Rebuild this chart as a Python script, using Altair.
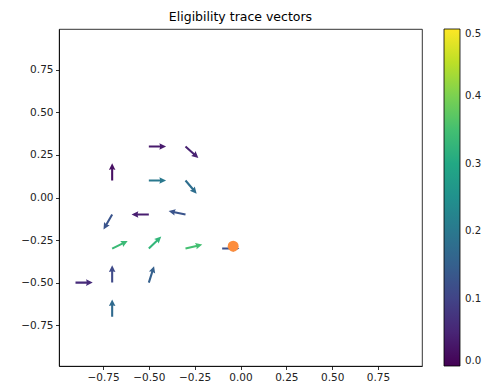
import altair as alt
import pandas as pd

# Arrow tails (grid positions), directions and magnitudes (colour)
xs = [-0.5, -0.3, -0.7, -0.5, -0.3, -0.5, -0.3, -0.7, -0.7, -0.5, -0.3, -0.1, -0.7, -0.5, -0.9, -0.7]
ys = [0.3, 0.3, 0.1, 0.1, 0.1, -0.1, -0.1, -0.1, -0.3, -0.3, -0.3, -0.3, -0.5, -0.5, -0.5, -0.7]
us = [1.0, 12.3, 0.0, 1.0, 11.0, -1.0, -15.7, -8.3, 15.0, 11.7, 16.7, 1.0, 0.0, 5.0, 1.0, 0.0]
vs = [0.0, -11.0, 1.0, 0.0, -13.0, 0.0, 3.3, -14.3, 7.3, 11.3, 4.0, 0.0, 1.0, 15.7, 0.0, 1.0]
mags = [0.035, 0.045, 0.02, 0.2, 0.18, 0.04, 0.13, 0.13, 0.34, 0.33, 0.35, 0.12, 0.11, 0.15, 0.06, 0.17]

# Agent position (orange marker)
agent_x = [-0.04]
agent_y = [-0.286]

tick_vals = [-0.75, -0.5, -0.25, 0.0, 0.25, 0.5, 0.75]
cbar_vals = [0.0, 0.1, 0.2, 0.3, 0.4, 0.5]

df = pd.DataFrame({"x": xs, "y": ys, "u": us, "v": vs, "c": mags})
agent = pd.DataFrame({"x": agent_x, "y": agent_y})

ARROW = "M0,-0.06 L0.65,-0.06 L0.61,-0.19 L1,0 L0.61,0.19 L0.65,0.06 L0,0.06 Z"

xscale = alt.Scale(domain=[-0.99, 0.99], nice=False, zero=False)
yscale = alt.Scale(domain=[-0.99, 0.99], nice=False, zero=False)

xaxis = alt.Axis(values=tick_vals, format=".2f", title=None, grid=False)
yaxis = alt.Axis(values=tick_vals, format=".2f", title=None, grid=False)

arrows = alt.Chart(df).transform_calculate(
    ang="(atan2(-datum.v, datum.u) * 180 / PI + 360) % 360"
).mark_point(shape=ARROW, filled=True, opacity=1, strokeWidth=0, size=1190).encode(
    x=alt.X("x:Q", scale=xscale, axis=xaxis),
    y=alt.Y("y:Q", scale=yscale, axis=yaxis),
    angle=alt.Angle("ang:Q", scale=None),
    color=alt.Color(
        "c:Q",
        scale=alt.Scale(scheme="viridis", domain=[0, 0.5]),
        legend=alt.Legend(
            orient="none", legendX=385, legendY=0, direction="vertical",
            gradientLength=337, gradientThickness=16, title=None,
            values=cbar_vals, format=".1f", labelFontSize=10.2,
            labelOffset=5, labelColor="#222", padding=0,
            gradientStrokeColor="#000", gradientStrokeWidth=0.8,
            labelBaseline="middle", labelFont="DejaVu Sans",
        ),
    ),
)

point = alt.Chart(agent).mark_circle(size=120, color="#fd8d3c", opacity=1).encode(
    x=alt.X("x:Q", scale=xscale),
    y=alt.Y("y:Q", scale=yscale),
)

chart = alt.layer(arrows, point).properties(
    width=363, height=337,
    title=alt.TitleParams("Eligibility trace vectors", fontSize=12.5, font="DejaVu Sans",
                          fontWeight="normal", color="#000", offset=6),
    autosize=alt.AutoSizeParams(type="none"),
    padding={"left": 51, "top": 21, "right": 60, "bottom": 18},
).configure_view(stroke="#000", strokeWidth=0.8).configure_axis(
    labelFont="DejaVu Sans", labelFontSize=10.5, labelColor="#222",
    tickColor="#000", tickSize=3.5, labelPadding=2.5, domainColor="#000", domainWidth=0.8,
    tickWidth=0.8,
)

chart.save("out.html", embed_options={"renderer": "svg", "actions": False})
